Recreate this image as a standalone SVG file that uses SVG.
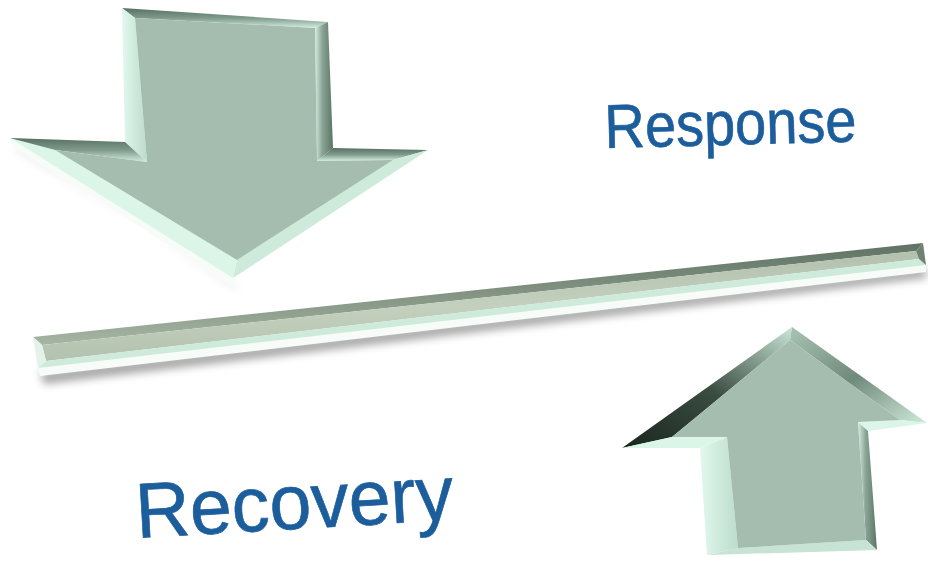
<svg xmlns="http://www.w3.org/2000/svg" width="928" height="565" viewBox="0 0 928 565">
<defs>
<style>
.face{fill:#a4bdaf}
.mint{fill:#cdeadb}
.lite{fill:#dcf5e9}
.white{fill:#f7fcf9}
.shadow{fill:#000;opacity:.35;filter:url(#blur)}
.lbl{font-family:"Liberation Sans",Arial,sans-serif;fill:#1c5d9c;stroke:#1c5d9c;stroke-width:.7}
</style>
<filter id="blur" x="-20%" y="-20%" width="140%" height="140%"><feGaussianBlur stdDeviation="4"/></filter>
<linearGradient id="gV" x1="0" y1="0" x2="0" y2="1"><stop offset="0" stop-color="#566f60"/><stop offset=".5" stop-color="#7f9a8b"/><stop offset="1" stop-color="#d3eee0"/></linearGradient>
<linearGradient id="gH" x1="0" y1="0" x2="1" y2="0"><stop offset="0" stop-color="#d3eee0"/><stop offset=".4" stop-color="#8aa596"/><stop offset="1" stop-color="#5a7364"/></linearGradient>
<linearGradient id="gHL" x1="0" y1="0" x2="1" y2="0"><stop offset="0" stop-color="#e2f8ee"/><stop offset="1" stop-color="#bcdccc"/></linearGradient>
<linearGradient id="gDark" x1="0" y1="1" x2="1" y2="0"><stop offset="0" stop-color="#1a261f"/><stop offset=".5" stop-color="#3a4d41"/><stop offset="1" stop-color="#c9e6d7"/></linearGradient>
<linearGradient id="gUR" x1="0" y1="0" x2="1" y2="1"><stop offset="0" stop-color="#a9c4b5"/><stop offset=".5" stop-color="#6f8a7b"/><stop offset="1" stop-color="#cfeadb"/></linearGradient>
<linearGradient id="gBarTop" x1="0" y1="0" x2="0" y2="1"><stop offset="0" stop-color="#5f7263"/><stop offset="1" stop-color="#a7b6a4"/></linearGradient>
<linearGradient id="gBarFace" x1="0" y1="0" x2="0" y2="1"><stop offset="0" stop-color="#b2c0ad"/><stop offset=".5" stop-color="#c3d0bd"/><stop offset="1" stop-color="#b3c2ae"/></linearGradient>
</defs>
<rect width="928" height="565" fill="#fff"/>

<g id="bar">
<polygon class="shadow" points="40,372 926,268 926,278 44,384"/>
<polygon class="white" points="38,367 926,264 926,272 40,376"/>
<polygon fill="url(#gBarTop)" points="33,337 923,243 916,251 42,345"/>
<polygon fill="url(#gBarFace)" points="42,345 916,251 919,259 46,361"/>
<polygon class="mint" points="46,361 919,259 926,265 38,368"/>
<polygon fill="#e4f3ea" points="33,337 42,345 46,361 38,368"/>
<polygon fill="#6f8272" points="923,243 926,265 919,259 916,251"/>
</g>

<g id="arrow-down">
<polygon class="shadow" points="14,146 235,288 240,290 18,150"/>
<polygon class="white" points="10,138 233,278 234,287 13,146"/>
<polygon fill="url(#gV)" points="122,8 328,22 315,28 135,18"/>
<polygon fill="url(#gHL)" points="122,8 135,18 147,162 125,142"/>
<polygon fill="url(#gH)" points="328,22 333,148 317,161 315,28"/>
<polygon fill="url(#gV)" points="333,148 428,150 393,160 317,161"/>
<polygon class="mint" points="428,150 233,278 237,260 393,160"/>
<polygon class="lite" points="233,278 10,138 55,150 237,260"/>
<polygon fill="url(#gV)" points="10,138 125,142 147,162 55,150"/>
<polygon class="face" points="135,18 315,28 317,161 393,160 237,260 55,150 147,162"/>
</g>

<g id="arrow-up">
<polygon fill="url(#gDark)" points="622,448 792,327 790,340 672,437"/>
<polygon fill="url(#gUR)" points="792,327 927,423 900,420 790,340"/>
<polygon class="lite" points="927,423 868,431 858,422 900,420"/>
<polygon fill="url(#gH)" points="868,431 877,550 866,540 858,422"/>
<polygon fill="#c6e3d4" points="877,550 707,555 738,548 866,540"/>
<polygon fill="url(#gHL)" points="707,555 700,448 727,437 738,548"/>
<polygon class="lite" points="700,448 622,448 672,437 727,437"/>
<polygon class="face" points="790,340 900,420 858,422 866,540 738,548 727,437 672,437"/>
</g>

<g id="labels">
<text class="lbl" x="605" y="148" font-size="62" textLength="252" lengthAdjust="spacingAndGlyphs" transform="rotate(-1.5 605 148)">Response</text>
<text class="lbl" x="137" y="538" font-size="78" textLength="318" lengthAdjust="spacingAndGlyphs" transform="rotate(-3.3 137 538)">Recovery</text>
</g>
</svg>
